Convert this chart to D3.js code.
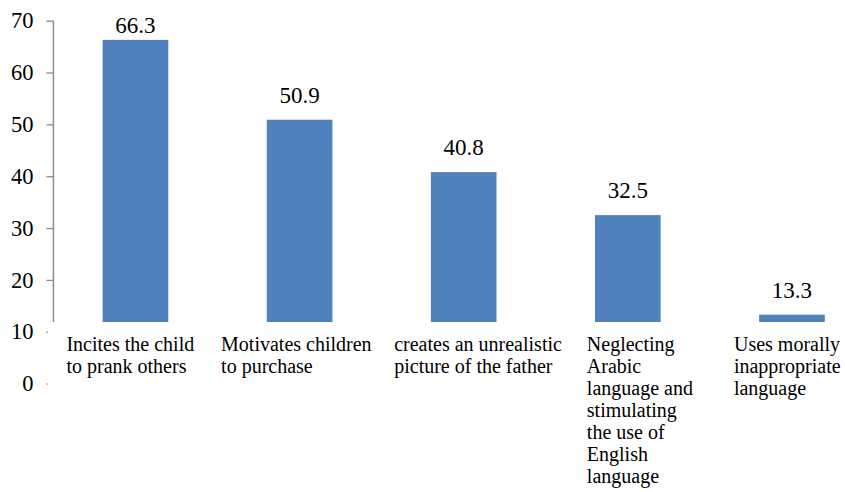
<!DOCTYPE html>
<html>
<head>
<meta charset="utf-8">
<script src="https://cdn.jsdelivr.net/npm/d3@7"></script>
<style>
  html, body { margin: 0; padding: 0; background: #fff; }
  svg text { font-family: 'Liberation Serif', 'Times New Roman', serif; }
</style>
</head>
<body>
<svg id="chart" width="845" height="492"></svg>
<script>
// Share of responses per criticism (%)
const categories = [
  "Incites the child to prank others",
  "Motivates children to purchase",
  "creates an unrealistic picture of the father",
  "Neglecting Arabic language and stimulating the use of English language",
  "Uses morally inappropriate language"
];
const categoryLines = [
  ["Incites the child", "to prank others"],
  ["Motivates children", "to purchase"],
  ["creates an unrealistic", "picture of the father"],
  ["Neglecting", "Arabic", "language and", "stimulating", "the use of", "English", "language"],
  ["Uses morally", "inappropriate", "language"]
];
const values = [66.3, 50.9, 40.8, 32.5, 13.3];
const yTicks = [0, 10, 20, 30, 40, 50, 60, 70];

// ---- layout ----
const FONT = "'Liberation Serif', 'Times New Roman', serif";
const svg = d3.select("#chart");
const axisX = 53.4;
const plotBottom = 322;
// left edge of each wrapped category label, measured from its bar's centre
const labelIndent = [-69, -78.5, -69.5, -41, -58];

const y = d3.scaleLinear().domain([0, 70]).range([383.6, 20.7]);
const x = d3.scaleBand()
  .domain(categories)
  .range([axisX, 874])
  .paddingInner(0.6)
  .paddingOuter(0.3);

// Bars rise from the bottom of the plot area
svg.append("g")
  .selectAll("rect")
  .data(values)
  .join("rect")
  .attr("x", (d, i) => x(categories[i]))
  .attr("width", x.bandwidth())
  .attr("y", d => y(d))
  .attr("height", d => Math.max(0, plotBottom - y(d)))
  .attr("fill", "#4F81BD");

// Value labels above the bars
svg.append("g")
  .selectAll("text")
  .data(values)
  .join("text")
  .attr("x", (d, i) => x(categories[i]) + x.bandwidth() / 2)
  .attr("y", d => Math.max(y(d) - 17, 33))
  .attr("text-anchor", "middle")
  .attr("font-family", FONT)
  .attr("font-size", 23)
  .attr("fill", "#000")
  .text(d => d.toFixed(1));

// Vertical axis
const axis = d3.axisLeft(y)
  .tickValues(yTicks)
  .tickSize(7)
  .tickSizeOuter(0)
  .tickPadding(13)
  .tickFormat(d3.format("d"));

const gAxis = svg.append("g")
  .attr("transform", `translate(${axisX},0)`)
  .call(axis)
  .attr("font-family", FONT);

gAxis.select(".domain")
  .attr("d", `M0,${y(70)}V${plotBottom}`)
  .attr("stroke", "#8c8c8c")
  .attr("stroke-width", 1.5);

gAxis.selectAll(".tick line")
  .attr("stroke", "#8c8c8c")
  .attr("stroke-width", 1.3)
  .attr("x2", d => (y(d) > plotBottom ? -5.6 : -7))
  .attr("x1", d => (y(d) > plotBottom ? -7 : 0));

gAxis.selectAll(".tick text")
  .attr("font-family", FONT)
  .attr("font-size", 22.5)
  .attr("fill", "#000");

// Category labels: wrapped, left-aligned lines under each bar
const lineHeight = 22;
svg.append("g")
  .selectAll("text")
  .data(categoryLines)
  .join("text")
  .attr("font-family", FONT)
  .attr("font-size", 20)
  .attr("fill", "#000")
  .attr("transform", (d, i) =>
    `translate(${x(categories[i]) + x.bandwidth() / 2 + labelIndent[i]},0)`)
  .each(function(lines) {
    d3.select(this)
      .selectAll("tspan")
      .data(lines)
      .join("tspan")
      .attr("x", 0)
      .attr("y", (d, j) => 350.5 + j * lineHeight)
      .text(d => d);
  });
</script>
</body>
</html>
